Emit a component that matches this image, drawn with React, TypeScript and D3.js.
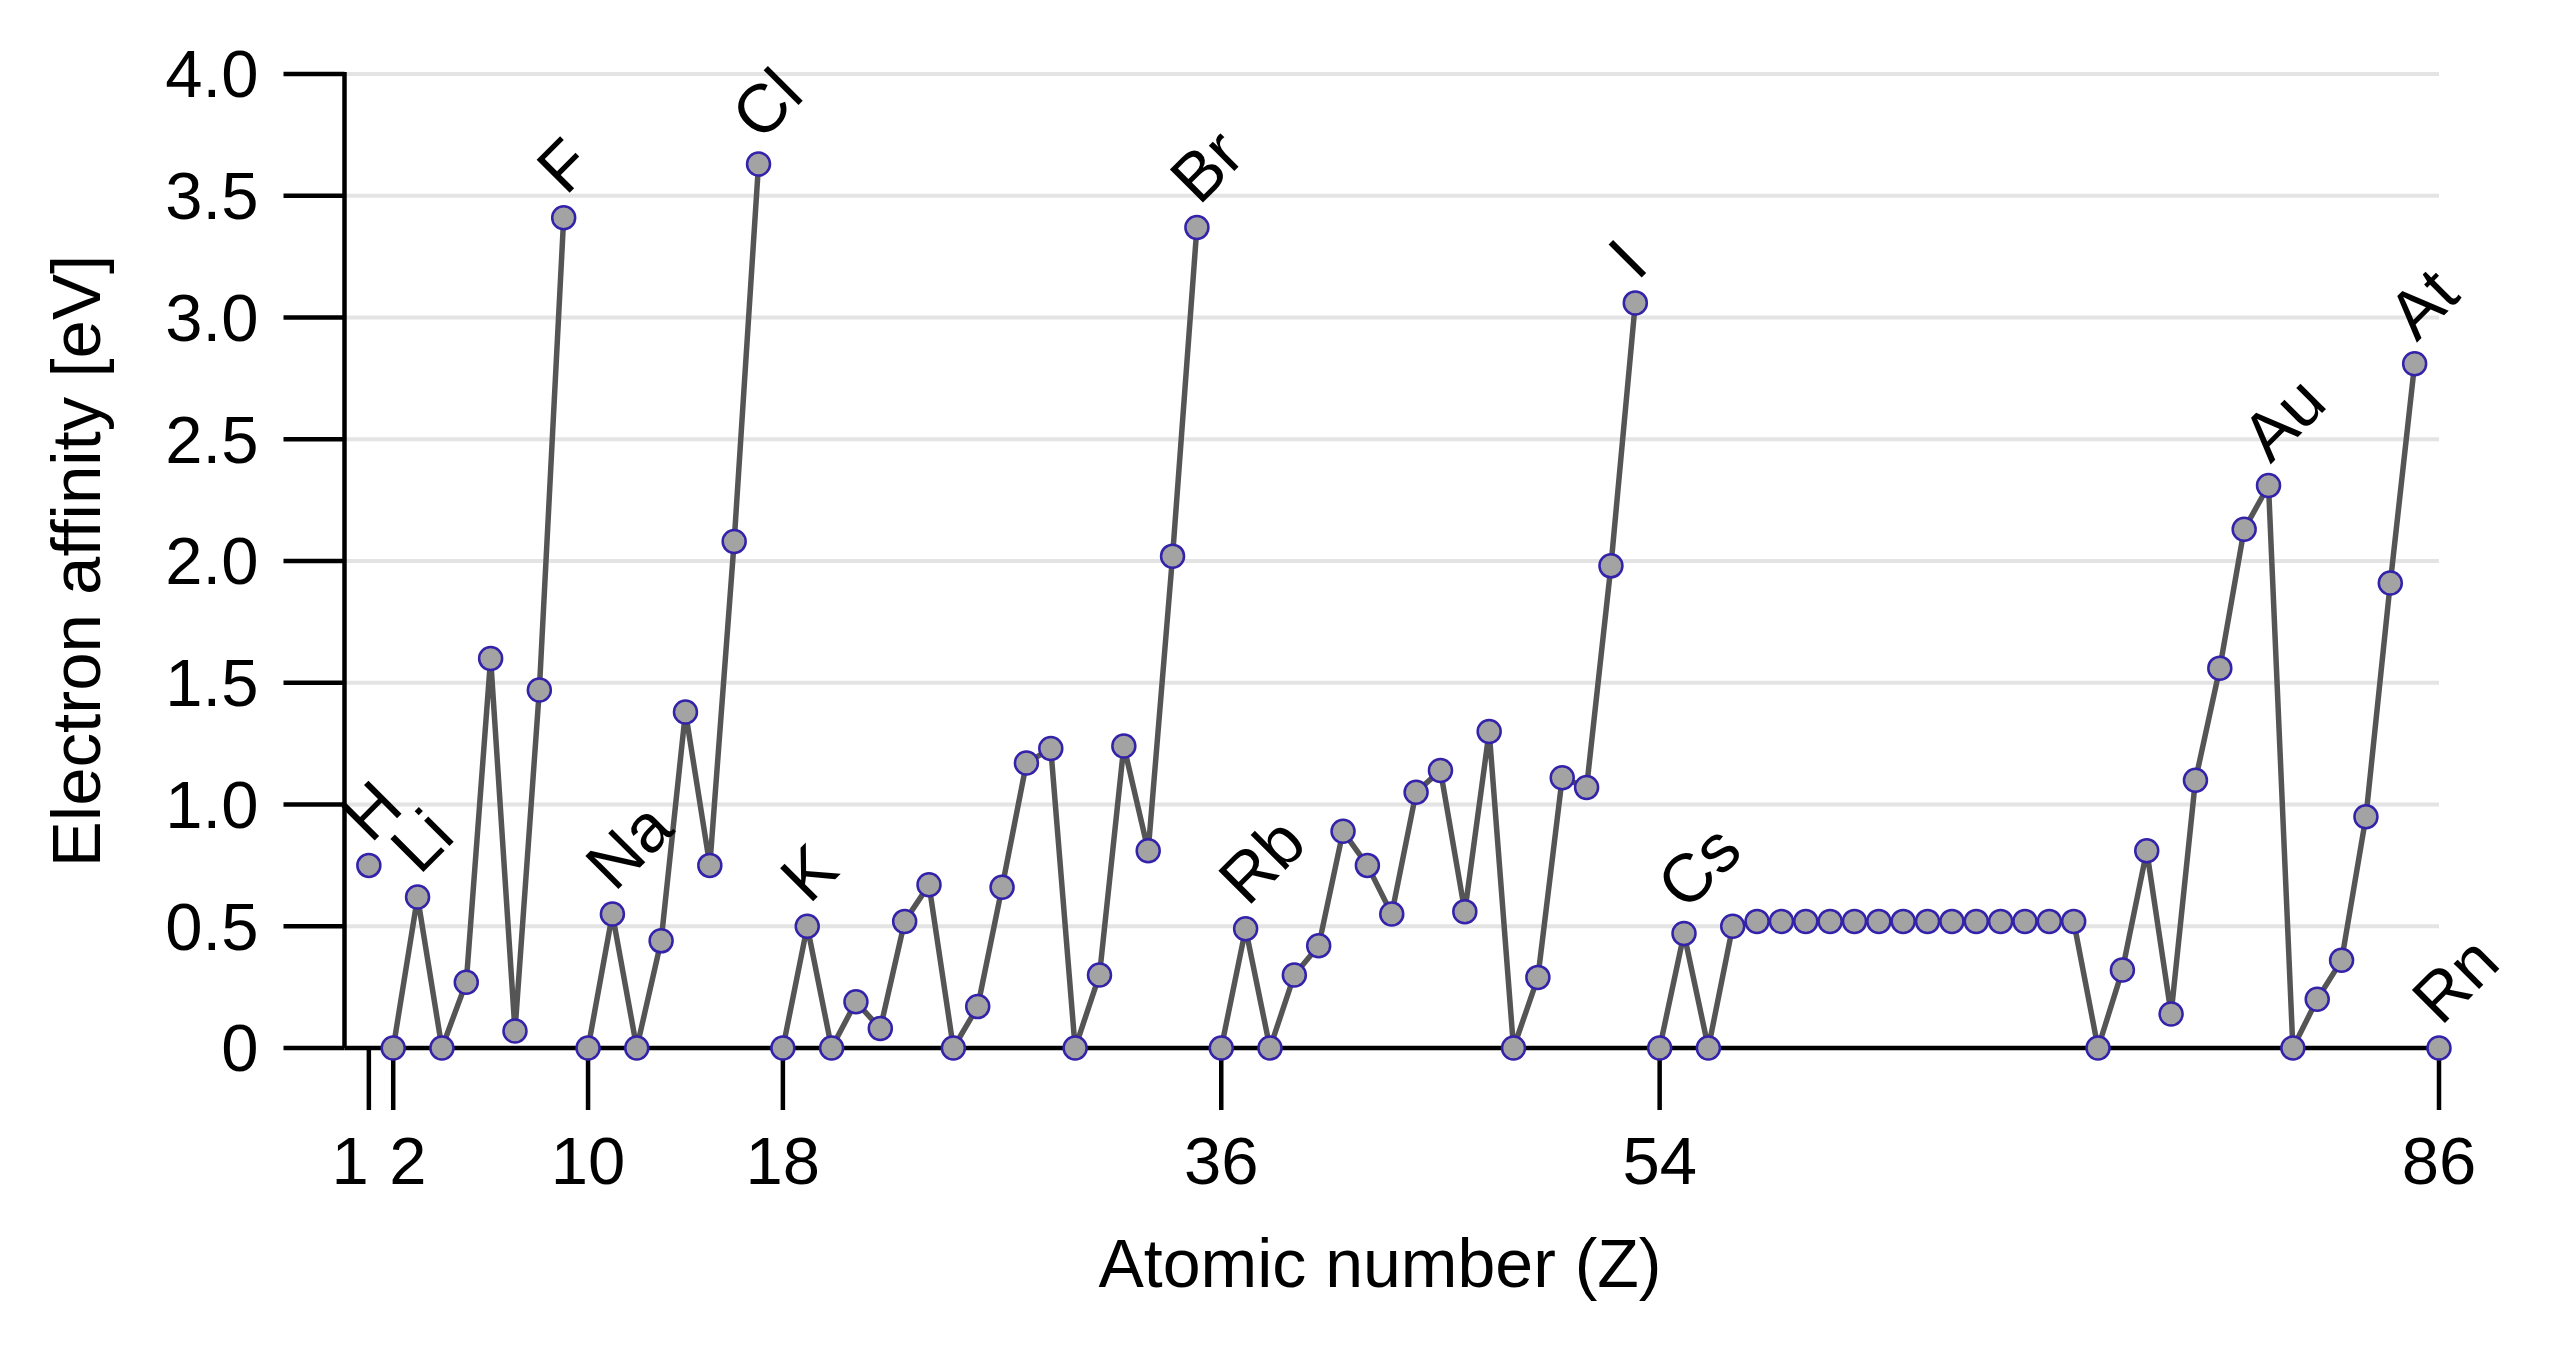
import React from 'react';
import * as d3 from 'd3';

// Atomic numbers Z = 1 .. 86
const atomicNumbers: number[] = d3.range(1, 87);

// Electron affinity [eV], Z = 1..86
const electronAffinity: number[] = [
  0.75, 0, 0.62, 0, 0.27, 1.6, 0.07, 1.47, 3.41, 0, // 1-10
  0.55, 0, 0.44, 1.38, 0.75, 2.08, 3.63, 0, 0.5, 0, // 11-20
  0.19, 0.08, 0.52, 0.67, 0, 0.17, 0.66, 1.17, 1.23, 0, // 21-30
  0.3, 1.24, 0.81, 2.02, 3.37, 0, 0.49, 0, 0.3, 0.42, // 31-40
  0.89, 0.75, 0.55, 1.05, 1.14, 0.56, 1.3, 0, 0.29, 1.11, // 41-50
  1.07, 1.98, 3.06, 0, 0.47, 0, 0.5, // 51-57
  0.52, 0.52, 0.52, 0.52, 0.52, 0.52, 0.52, 0.52, 0.52, 0.52, 0.52, 0.52, 0.52, 0.52, // 58-71
  0, 0.32, 0.81, 0.14, 1.1, 1.56, 2.13, 2.31, 0, // 72-80
  0.2, 0.36, 0.95, 1.91, 2.81, 0, // 81-86
];

// Line breaks: no segment is drawn between Z and Z+1 for these Z
const breakAfter: number[] = [1, 9, 17, 35, 53, 85];

// Labelled elements
const labelSymbols: string[] = ['H', 'Li', 'F', 'Na', 'Cl', 'K', 'Br', 'Rb', 'I', 'Cs', 'Au', 'At', 'Rn'];
const labelZ: number[] = [1, 3, 9, 11, 17, 19, 35, 37, 53, 55, 79, 85, 86];

const xTicks: number[] = [1, 2, 10, 18, 36, 54, 86];
const yTicks: number[] = [0, 0.5, 1, 1.5, 2, 2.5, 3, 3.5, 4];

const xTitle = 'Atomic number (Z)';
const yTitle = 'Electron affinity [eV]';

const W = 2560;
const H = 1346;
const FONT = '"Liberation Sans", Arial, Helvetica, sans-serif';

export default function App() {
  const x = d3.scaleLinear().domain([0, 86]).range([344.5, 2439]);
  const y = d3.scaleLinear().domain([0, 4]).range([1048, 74]);

  const points = atomicNumbers.map((z, i) => ({ z, v: electronAffinity[i] }));

  // build segments
  const segments: { z: number; v: number }[][] = [];
  let cur: { z: number; v: number }[] = [];
  points.forEach((p) => {
    cur.push(p);
    if (breakAfter.includes(p.z)) {
      segments.push(cur);
      cur = [];
    }
  });
  if (cur.length) segments.push(cur);

  const line = d3
    .line<{ z: number; v: number }>()
    .x((d) => x(d.z))
    .y((d) => y(d.v));

  const fmtY = (v: number) => (v === 0 ? '0' : d3.format('.1f')(v));

  const x0 = x(0);
  const xEnd = x(86);

  // tick label placement for the crowded 1 / 2 ticks
  const tickAnchor = (t: number) => (t === 1 ? 'end' : t === 2 ? 'start' : 'middle');
  const tickShift = (t: number) => (t === 1 ? 0 : t === 2 ? -4 : 0);

  return (
    <div style={{ position: 'absolute', left: 0, top: 0 }}>
      <svg width={W} height={H} style={{ display: 'block', background: '#fff' }} fontFamily={FONT}>
        {/* gridlines */}
        {yTicks
          .filter((t) => t > 0)
          .map((t) => (
            <line key={'g' + t} x1={x0} x2={xEnd} y1={y(t)} y2={y(t)} stroke="#e4e4e4" strokeWidth={4} />
          ))}

        {/* y axis */}
        <line x1={x0} x2={x0} y1={y(0)} y2={y(4) - 2} stroke="#000" strokeWidth={4.5} />
        {yTicks.map((t) => (
          <g key={'yt' + t}>
            <line x1={x0 - 61} x2={x0} y1={y(t)} y2={y(t)} stroke="#000" strokeWidth={4.5} />
            <text x={x0 - 86} y={y(t)} dy="0.35em" textAnchor="end" fontSize={67} fill="#000">
              {fmtY(t)}
            </text>
          </g>
        ))}

        {/* x axis */}
        <line x1={x0} x2={xEnd} y1={y(0)} y2={y(0)} stroke="#000" strokeWidth={4.5} />
        {xTicks.map((t) => (
          <g key={'xt' + t}>
            <line x1={x(t)} x2={x(t)} y1={y(0)} y2={y(0) + 62} stroke="#000" strokeWidth={4.5} />
            <text
              x={x(t) + tickShift(t)}
              y={1184}
              textAnchor={tickAnchor(t)}
              fontSize={67}
              fill="#000"
            >
              {t}
            </text>
          </g>
        ))}

        {/* titles */}
        <text x={1380} y={1287} textAnchor="middle" fontSize={68} fill="#000">
          {xTitle}
        </text>
        <text
          transform={`translate(100, ${(y(0) + y(4)) / 2}) rotate(-90)`}
          textAnchor="middle"
          fontSize={69}
          fill="#000"
        >
          {yTitle}
        </text>

        {/* lines */}
        {segments.map((seg, i) =>
          seg.length > 1 ? (
            <path key={'s' + i} d={line(seg) || ''} fill="none" stroke="#555555" strokeWidth={5.5} strokeLinejoin="round" />
          ) : null
        )}

        {/* points */}
        {points.map((p) => (
          <circle key={'p' + p.z} cx={x(p.z)} cy={y(p.v)} r={11.5} fill="#a3a3a3" stroke="#3322aa" strokeWidth={2.5} />
        ))}

        {/* labels */}
        {labelSymbols.map((s, i) => {
          const z = labelZ[i];
          const v = electronAffinity[z - 1];
          const ax = x(z) + 2;
          const ay = y(v) - 21;
          return (
            <text key={'l' + s} transform={`translate(${ax}, ${ay}) rotate(-45)`} fontSize={68} fill="#000">
              {s}
            </text>
          );
        })}
      </svg>
    </div>
  );
}
